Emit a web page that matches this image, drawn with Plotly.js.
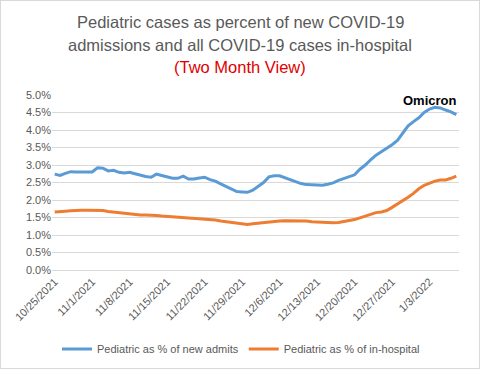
<!DOCTYPE html>
<html>
<head>
<meta charset="utf-8">
<script src="https://cdn.plot.ly/plotly-3.0.1.min.js"></script>
<style>
html,body{margin:0;padding:0;background:#fff;}
#wrap{width:480px;height:369px;box-sizing:border-box;border:1px solid #d9d9d9;overflow:hidden;}
#chart{width:478px;height:367px;}
</style>
</head>
<body>
<div id="wrap"><div id="chart"></div></div>
<script>
// Daily data 10/25/2021 .. 1/8/2022 (percent)
const startDate = '2021-10-25';
const newAdmits = [
  2.74,2.70,2.76,2.81,2.80,2.81,2.80,2.80,2.92,2.91,
  2.83,2.85,2.79,2.77,2.79,2.75,2.70,2.67,2.65,2.74,
  2.70,2.65,2.62,2.62,2.68,2.60,2.60,2.63,2.65,2.58,
  2.54,2.46,2.38,2.30,2.24,2.23,2.22,2.28,2.38,2.50,
  2.66,2.69,2.69,2.63,2.58,2.52,2.47,2.44,2.43,2.41,
  2.42,2.45,2.49,2.56,2.62,2.67,2.72,2.88,3.00,3.15,
  3.28,3.38,3.47,3.58,3.70,3.90,4.12,4.24,4.35,4.50,
  4.60,4.65,4.63,4.57,4.52,4.44
];
const inHospital = [
  1.66,1.66,1.68,1.69,1.71,1.71,1.71,1.71,1.71,1.70,
  1.67,1.65,1.64,1.61,1.60,1.58,1.57,1.57,1.57,1.56,
  1.54,1.53,1.52,1.50,1.49,1.47,1.47,1.47,1.46,1.44,
  1.43,1.40,1.38,1.36,1.33,1.32,1.30,1.32,1.34,1.36,
  1.38,1.39,1.40,1.41,1.41,1.41,1.41,1.40,1.38,1.37,
  1.36,1.35,1.35,1.36,1.38,1.41,1.44,1.49,1.54,1.59,
  1.64,1.66,1.70,1.79,1.88,1.97,2.08,2.19,2.32,2.42,
  2.48,2.54,2.57,2.57,2.62,2.68
];
const tickVals = ['2021-10-25','2021-11-01','2021-11-08','2021-11-15','2021-11-22','2021-11-29',
                  '2021-12-06','2021-12-13','2021-12-20','2021-12-27','2022-01-03'];
const tickText = ['10/25/2021','11/1/2021','11/8/2021','11/15/2021','11/22/2021','11/29/2021',
                  '12/6/2021','12/13/2021','12/20/2021','12/27/2021','1/3/2022'];
const seriesNames = ['Pediatric as % of new admits','Pediatric as % of in-hospital'];
const titleLines = ['Pediatric cases as percent of new COVID-19',
                    'admissions and all COVID-19 cases in-hospital',
                    '(Two Month View)'];

function dates(n){
  const out=[]; const d0=new Date(startDate+'T00:00:00Z');
  for(let i=0;i<n;i++){const d=new Date(d0.getTime()+i*86400000);out.push(d.toISOString().slice(0,10));}
  return out;
}
const x = dates(newAdmits.length);

const font = "'Liberation Sans', Arial, sans-serif";
const traces = [
  {x:x, y:newAdmits, name:seriesNames[0], type:'scatter', mode:'lines',
   line:{color:'#5b9bd5', width:3}},
  {x:x, y:inHospital, name:seriesNames[1], type:'scatter', mode:'lines',
   line:{color:'#ed7d31', width:3}}
];
const titleY = [1.416, 1.283, 1.159];
const titleColors = ['#595959','#595959','#e00000'];
const annotations = titleLines.map((t,i)=>({
  text:t, xref:'paper', yref:'paper', x:(239-51)/407, y:titleY[i],
  xanchor:'center', yanchor:'middle', showarrow:false,
  font:{family:font, size:16.5, color:titleColors[i]}
}));
annotations.push({x:'2022-01-03', y:4.83, xref:'x', yref:'y', text:'<b>Omicron</b>', showarrow:false,
     font:{family:font, size:13, color:'#000'}});

const layout = {
  width:478, height:367,
  margin:{l:51, r:20, t:93.7, b:97.7},
  paper_bgcolor:'#fff', plot_bgcolor:'#fff',
  font:{family:font, color:'#595959', size:11},
  xaxis:{
    type:'date', range:['2021-10-24 12:00','2022-01-08 12:00'],
    tickmode:'array', tickvals:tickVals, ticktext:tickText, tickangle:-45,
    showgrid:false, showline:true, linecolor:'#d9d9d9', linewidth:1,
    ticks:'', tickfont:{size:11, color:'#595959'}, zeroline:false, automargin:false
  },
  yaxis:{
    range:[0,5], dtick:0.5, tickformat:'.1f', ticksuffix:'%',
    showgrid:true, gridcolor:'#d9d9d9', gridwidth:1, zeroline:false,
    showline:false, ticks:'', tickfont:{size:11, color:'#595959'}, automargin:false
  },
  showlegend:true,
  legend:{orientation:'h', xref:'container', yref:'container', x:240/478, xanchor:'center',
          y:1-348/367, yanchor:'middle',
          font:{size:11, color:'#595959'}, bgcolor:'rgba(0,0,0,0)'},
  annotations:annotations
};
Plotly.newPlot('chart', traces, layout, {displayModeBar:false, staticPlot:true});
</script>
</body>
</html>
